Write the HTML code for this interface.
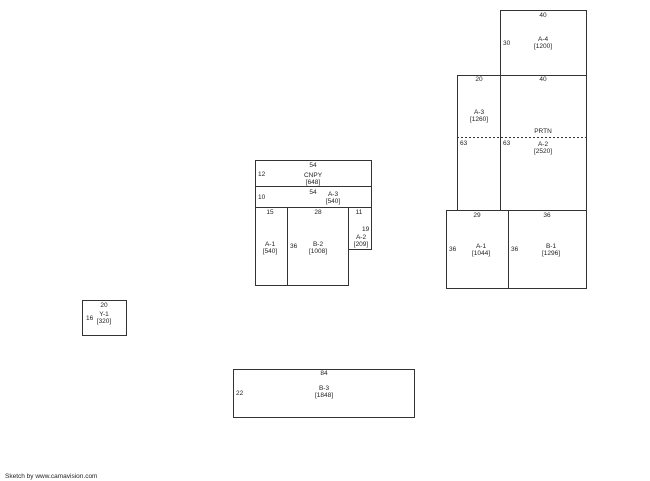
<!DOCTYPE html>
<html><head><style>
html,body{margin:0;padding:0;background:#fff;width:650px;height:481px;overflow:hidden}
svg text{font-family:"Liberation Sans",sans-serif;font-size:6.5px;fill:#222}
</style></head><body>
<svg width="650" height="481" viewBox="0 0 650 481">
<g fill="none" stroke="#333" stroke-width="1">
<!-- right cluster -->
<rect x="500.5" y="10.5" width="86" height="65"/>
<rect x="457.5" y="75.5" width="43" height="135"/>
<rect x="500.5" y="75.5" width="86" height="135"/>
<rect x="446.5" y="210.5" width="62" height="78"/>
<rect x="508.5" y="210.5" width="78" height="78"/>
<!-- left cluster -->
<rect x="255.5" y="160.5" width="116" height="26"/>
<rect x="255.5" y="186.5" width="116" height="21"/>
<rect x="255.5" y="207.5" width="32" height="78"/>
<rect x="287.5" y="207.5" width="61" height="78"/>
<rect x="348.5" y="207.5" width="23" height="42"/>
<rect x="82.5" y="300.5" width="44" height="35"/>
<rect x="233.5" y="369.5" width="181" height="48"/>
</g>
<line x1="457" y1="137.5" x2="587" y2="137.5" stroke="#333" stroke-dasharray="2,2"/>
<g text-anchor="middle">
<text x="543" y="17">40</text>
<text x="543" y="41">A-4</text><text x="543" y="48">[1200]</text>
<text x="479" y="81">20</text><text x="543" y="81">40</text>
<text x="479" y="114">A-3</text><text x="479" y="121">[1260]</text>
<text x="543" y="133">PRTN</text>
<text x="543" y="146">A-2</text><text x="543" y="153">[2520]</text>
<text x="477" y="217">29</text><text x="547" y="217">36</text>
<text x="481" y="248">A-1</text><text x="481" y="255">[1044]</text>
<text x="551" y="248">B-1</text><text x="551" y="255">[1296]</text>
<text x="313" y="167">54</text>
<text x="313" y="177">CNPY</text><text x="313" y="184">[648]</text>
<text x="313" y="194">54</text>
<text x="333" y="196">A-3</text><text x="333" y="203">[540]</text>
<text x="270" y="214">15</text><text x="318" y="214">28</text><text x="359" y="214">11</text>
<text x="270" y="246">A-1</text><text x="270" y="253">[540]</text>
<text x="318" y="246">B-2</text><text x="318" y="253">[1008]</text>
<text x="361" y="239">A-2</text><text x="361" y="246">[209]</text>
<text x="104" y="307">20</text>
<text x="104" y="316">Y-1</text><text x="104" y="323">[320]</text>
<text x="324" y="375">84</text>
<text x="324" y="390">B-3</text><text x="324" y="397">[1848]</text>
</g>
<g>
<text x="503" y="45">30</text>
<text x="460" y="145">63</text><text x="503" y="145">63</text>
<text x="449" y="251">36</text><text x="511" y="251">36</text>
<text x="258" y="176">12</text>
<text x="258" y="199">10</text>
<text x="290" y="248">36</text>
<text x="362" y="231">19</text>
<text x="86" y="320">16</text>
<text x="236" y="395">22</text>
<text x="5" y="478">Sketch by www.camavision.com</text>
</g>
</svg>
</body></html>
